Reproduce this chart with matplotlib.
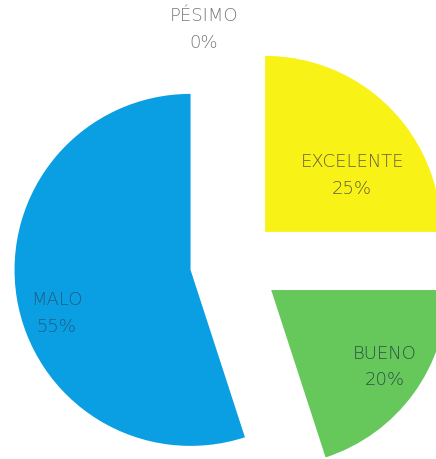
import numpy as np
import matplotlib.pyplot as plt

# data
labels = ["EXCELENTE", "BUENO", "MALO", "PÉSIMO"]
values = [25, 20, 55, 0]
colors = ["#f8f217", "#66c75b", "#0a9fe2", "#cccccc"]
text_colors = ["#5f5f3a", "#2e4f45", "#1f5a80", "#777777"]

# layout (pixel units, y up)
center = (234, 196)
radius = 176
explode = [44, 46, 44, 44]
lab_ang = [33, -34, 198, 99]      # degrees, relative to wedge corner
lab_dist = [0.59, 0.78, 0.80, 1.09]

fig = plt.figure(figsize=(4.36, 4.59), dpi=100)
ax = fig.add_axes([0, 0, 1, 1])

wedges, _ = ax.pie(values, colors=colors, startangle=90, counterclock=False,
                   explode=explode, radius=radius, center=center,
                   wedgeprops=dict(linewidth=0), frame=True)
ax.set_xlim(0, 436)
ax.set_ylim(0, 459)
ax.set_aspect("equal")
ax.axis("off")

for w, lab, v, a, d, tc in zip(wedges, labels, values, lab_ang, lab_dist, text_colors):
    cx, cy = w.center
    x = cx + d * radius * np.cos(np.radians(a))
    y = cy + d * radius * np.sin(np.radians(a))
    ax.text(x, y, f"{lab}\n{v}%", ha="center", va="center", fontsize=13,
            fontweight="light", color=tc, linespacing=1.6, family="DejaVu Sans")

fig.savefig("out.png", dpi=100)
